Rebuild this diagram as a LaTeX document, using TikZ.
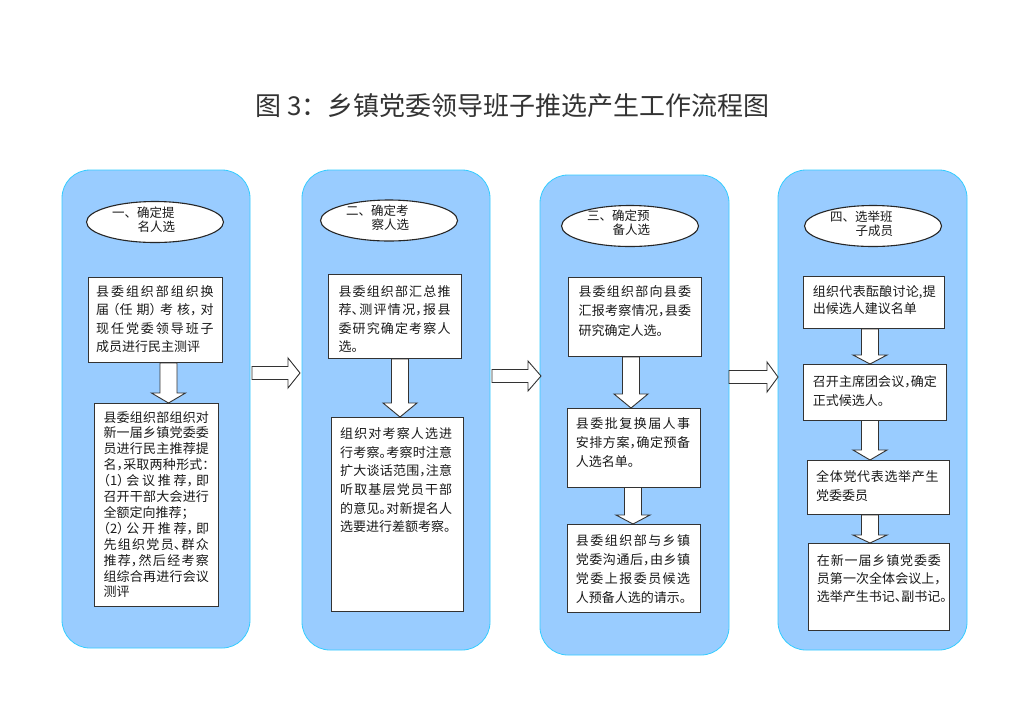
\documentclass[tikz,border=0pt]{standalone}
\usepackage{fontspec}
\setmainfont{Noto Sans CJK SC}
\newfontfamily\bodyfont{Noto Sans CJK SC}[RawFeature=+halt]
\usetikzlibrary{shapes.geometric}
\XeTeXlinebreaklocale "zh"
\XeTeXlinebreakskip=0pt plus 1pt
\definecolor{colfill}{HTML}{99CCFF}
\definecolor{coledge}{HTML}{33CCFF}
\definecolor{ink}{HTML}{333333}
\definecolor{txtink}{HTML}{1A1A1A}
\newcommand\txtblock[4]{\parbox[t]{#1pt}{\bodyfont\fontsize{#2}{#3}\selectfont #4}}
\newcommand\eltext[2]{\parbox{86pt}{\fontsize{12.5}{14.5}\selectfont #1\\\hspace*{2.05em}#2}}
\newcommand\dnarrow[4]{\draw[blk] (#1-8.5,#2) -- (#1+8.5,#2) -- (#1+8.5,#3) -- (#1+17,#3) -- (#1,#4) -- (#1-17,#3) -- (#1-8.5,#3) -- cycle;}
\newcommand\rtarrow[4]{\draw[blk] (#1,#4-6.5) -- (#2,#4-6.5) -- (#2,#4-15) -- (#3,#4) -- (#2,#4+15) -- (#2,#4+6.5) -- (#1,#4+6.5) -- cycle;}
\tikzset{
  column/.style={fill=colfill, draw=coledge, line width=0.8pt, rounded corners=28pt},
  stepbox/.style={draw=ink, fill=white, line width=0.9pt, inner sep=0pt, anchor=north west},
  ell/.style={ellipse, draw=black!85, fill=white, line width=1.1pt, minimum width=137pt, minimum height=41pt, inner sep=0pt},
  eltxt/.style={inner sep=0pt, text=txtink},
  txt/.style={inner sep=0pt, anchor=base west, text=txtink},
  blk/.style={draw=ink, fill=white, line width=0.9pt, line join=miter},
}
\begin{document}
\begin{tikzpicture}[x=1pt,y=-1pt]
\useasboundingbox (0,0) rectangle (1024,724);
\fill[white] (0,0) rectangle (1024,724);

% title
\node[text=ink, inner sep=0pt, font=\fontsize{26}{30}\selectfont] (title) at (512.5,106) {图 3：乡镇党委领导班子推选产生工作流程图};

% columns
\draw[column] (62,170) rectangle (250,648);
\draw[column] (302,170) rectangle (490,650);
\draw[column] (540,175) rectangle (729,655);
\draw[column] (778,170) rectangle (967,650);

% ellipses
\node[ell] (e1) at (155,222) {};
\node[ell] (e2) at (389,220.5) {};
\node[ell] (e3) at (630,226) {};
\node[ell] (e4) at (873,226) {};
\node[eltxt] (l1) at ([yshift=2.5pt]e1.center) {\eltext{一、确定提}{名人选}};
\node[eltxt] (l2) at ([yshift=3pt]e2.center) {\eltext{二、确定考}{察人选}};
\node[eltxt] (l3) at ([yshift=3.5pt]e3.center) {\eltext{三、确定预}{备人选}};
\node[eltxt] (l4) at ([yshift=2.5pt]e4.center) {\eltext{四、选举班}{子成员}};

% down arrows
\dnarrow{168.5}{363}{393}{403}
\dnarrow{400}{359}{403}{417}
\dnarrow{631}{357}{394}{408}
\dnarrow{633}{487}{515}{524}
\dnarrow{870}{329}{355}{364}
\dnarrow{870}{420}{450}{460}
\dnarrow{870}{515}{535}{543}

% right arrows
\rtarrow{252}{288}{300}{373}
\rtarrow{492}{528}{541}{376}
\rtarrow{729}{767}{778}{377}

% boxes
\node[stepbox, minimum width=134pt, minimum height=85pt] (b1a) at (88,277) {};
\node[stepbox, minimum width=124pt, minimum height=203pt] (b1b) at (94,403) {};
\node[stepbox, minimum width=133pt, minimum height=84pt] (b2a) at (328,274) {};
\node[stepbox, minimum width=132pt, minimum height=194pt] (b2b) at (331,417) {};
\node[stepbox, minimum width=133pt, minimum height=79pt] (b3a) at (568,277) {};
\node[stepbox, minimum width=133pt, minimum height=79pt] (b3b) at (567,408) {};
\node[stepbox, minimum width=133pt, minimum height=88pt] (b3c) at (567,524) {};
\node[stepbox, minimum width=141pt, minimum height=52pt] (b4a) at (803,276) {};
\node[stepbox, minimum width=143pt, minimum height=56pt] (b4b) at (803,364) {};
\node[stepbox, minimum width=142pt, minimum height=54pt] (b4c) at (807,460) {};
\node[stepbox, minimum width=141pt, minimum height=87pt] (b4d) at (808,543) {};

% box texts
\node[txt] (t1a) at (96,296) {\txtblock{117.5}{13}{18.5}{县委组织部组织换\linebreak 届（任期）考核，对\linebreak 现任党委领导班子\linebreak 成员进行民主测评}};
\node[txt] (t1b) at (103.3,422) {\txtblock{105.5}{13}{15.9}{县委组织部组织对\linebreak 新一届乡镇党委委\linebreak 员进行民主推荐提\linebreak 名，采取两种形式：\linebreak （1）会议推荐，即\linebreak 召开干部大会进行\linebreak 全额定向推荐；\newline （2）公开推荐，即\linebreak 先组织党员、群众\linebreak 推荐，然后经考察\linebreak 组综合再进行会议\linebreak 测评}};
\node[txt] (t2a) at (338.3,296) {\txtblock{112}{13}{18.6}{县委组织部汇总推\linebreak 荐、测评情况，报县\linebreak 委研究确定考察人\linebreak 选。}};
\node[txt] (t2b) at (340,438.3) {\txtblock{112}{13}{18.7}{组织对考察人选进\linebreak 行考察。考察时注意\linebreak 扩大谈话范围，注意\linebreak 听取基层党员干部\linebreak 的意见。对新提名人\linebreak 选要进行差额考察。}};
\node[txt] (t3a) at (578.3,296.7) {\txtblock{112.7}{13}{19.2}{县委组织部向县委\linebreak 汇报考察情况，县委\linebreak 研究确定人选。}};
\node[txt] (t3b) at (575.7,428.3) {\txtblock{114.3}{13}{19.2}{县委批复换届人事\linebreak 安排方案，确定预备\linebreak 人选名单。}};
\node[txt] (t3c) at (575.7,545) {\txtblock{114.3}{13}{19.2}{县委组织部与乡镇\linebreak 党委沟通后，由乡镇\linebreak 党委上报委员候选\linebreak 人预备人选的请示。}};
\node[txt] (t4a) at (812.7,296) {\txtblock{123}{13}{17.3}{组织代表酝酿讨论,提\linebreak 出候选人建议名单}};
\node[txt] (t4b) at (812.7,386.7) {\txtblock{124}{13}{18.3}{召开主席团会议，确定\linebreak 正式候选人。}};
\node[txt] (t4c) at (816,481.7) {\txtblock{122.3}{13}{18.3}{全体党代表选举产生\linebreak 党委委员}};
\node[txt] (t4d) at (816.7,565) {\txtblock{124}{13}{18.3}{在新一届乡镇党委委\linebreak 员第一次全体会议上，\linebreak \mbox{选举产生书记、副书记。}}};
\end{tikzpicture}
\end{document}
